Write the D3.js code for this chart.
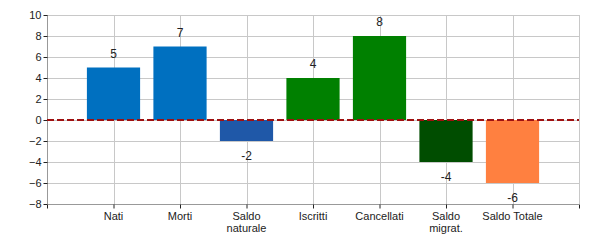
<!DOCTYPE html>
<html><head><meta charset="utf-8">
<script src="https://cdn.jsdelivr.net/npm/d3@7"></script>
<style>body{margin:0;background:#fff}text{font-family:"Liberation Sans",Arial,sans-serif}</style>
</head><body><svg id="c" width="600" height="250"></svg>
<script>
const categories = ["Nati","Morti","Saldo naturale","Iscritti","Cancellati","Saldo migrat.","Saldo Totale"];
const labelLines = [["Nati"],["Morti"],["Saldo","naturale"],["Iscritti"],["Cancellati"],["Saldo","migrat."],["Saldo Totale"]];
const values = [5,7,-2,4,8,-4,-6];
const colors = ["#0070C0","#0070C0","#1F58A8","#008000","#008000","#004D00","#FF8040"];
const yTicks = [-8,-6,-4,-2,0,2,4,6,8,10];

const svg = d3.select("#c");
const L=47,R=579,T=15,B=204;
const x = d3.scaleLinear().domain([0,categories.length+1]).range([L,R]);
const y = d3.scaleLinear().domain([-8,10]).range([B,T]);
const step = x(1)-x(0), bw = step*0.8;

// grid
svg.append("g").selectAll("line").data(yTicks).join("line")
  .attr("x1",L).attr("x2",R).attr("y1",d=>y(d)+0.5).attr("y2",d=>y(d)+0.5)
  .attr("stroke","#c8c8c8").attr("stroke-width",1);
svg.append("g").selectAll("line").data(d3.range(1,categories.length+2)).join("line")
  .attr("y1",T).attr("y2",B).attr("x1",d=>Math.round(x(d))+0.5).attr("x2",d=>Math.round(x(d))+0.5)
  .attr("stroke","#c8c8c8").attr("stroke-width",1);

// bars
svg.append("g").selectAll("rect").data(values).join("rect")
  .attr("x",(d,i)=>x(i+1)-bw/2).attr("width",bw)
  .attr("y",d=>y(Math.max(0,d))).attr("height",d=>Math.abs(y(d)-y(0)))
  .attr("fill",(d,i)=>colors[i]);

// value labels
svg.append("g").selectAll("text").data(values).join("text")
  .attr("x",(d,i)=>x(i+1)).attr("y",d=>d>=0?y(d)-10:y(d)+19)
  .attr("text-anchor","middle").attr("font-size",12).attr("fill","#222")
  .text(d=>d);

// y axis
const ya = svg.append("g").attr("transform",`translate(${L+0.5},0)`)
  .call(d3.axisLeft(y).tickValues(yTicks).tickSize(4).tickPadding(2).tickFormat(d3.format("d")));
ya.select(".domain").attr("stroke","#999").attr("d",`M0,${T}V${B}`);
ya.selectAll(".tick line").attr("stroke","#222");
ya.selectAll("text").attr("font-size",11).attr("fill","#222").attr("font-family","Liberation Sans, Arial, sans-serif");

// x axis
const xa = svg.append("g").attr("transform",`translate(0,${B+0.5})`)
  .call(d3.axisBottom(x).tickValues(d3.range(0,categories.length+2)).tickSize(4).tickFormat(""));
xa.select(".domain").attr("stroke","#999").attr("d",`M${L},0H${R}`);
xa.selectAll(".tick line").attr("stroke","#222");

const xl = svg.append("g");
labelLines.forEach((lines,i)=>{
  const t = xl.append("text").attr("x",x(i+1)).attr("y",B+16).attr("text-anchor","middle")
    .attr("font-size",11).attr("fill","#222");
  lines.forEach((s,j)=>t.append("tspan").attr("x",x(i+1)).attr("dy",j?12:0).text(s));
});

// zero line
svg.append("line").attr("x1",L).attr("x2",R).attr("y1",y(0)).attr("y2",y(0))
  .attr("stroke","#A01010").attr("stroke-width",2).attr("stroke-dasharray","7,3");
</script></body></html>
